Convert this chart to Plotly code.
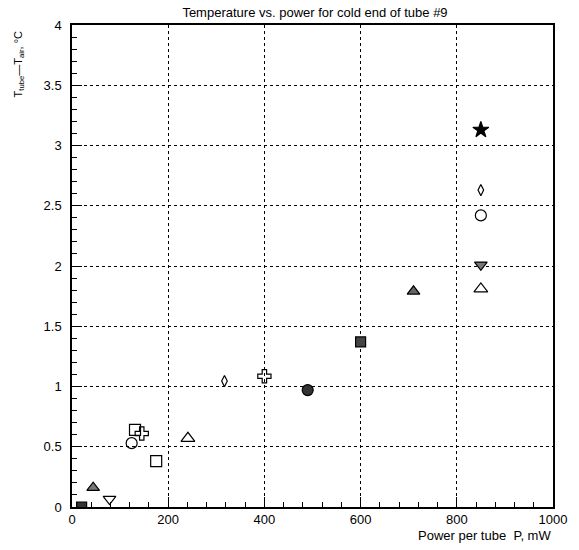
import plotly.graph_objects as go

# Measured temperature rise vs. power per tube (cold end of tube #9)
power_mw = [20, 44, 78, 124, 131, 145, 175, 241, 317, 400, 490, 600, 710,
            850, 850, 850, 850, 850]
delta_t = [0.0, 0.16, 0.066, 0.53, 0.64, 0.61, 0.38, 0.57, 1.045, 1.085,
           0.97, 1.37, 1.79, 3.13, 2.63, 2.42, 2.01, 1.81]

# Marker style for each measurement run
symbols = ["square", "triangle-up", "triangle-down-open", "circle-open",
           "square-open", "cross-open", "square-open", "triangle-up-open",
           "diamond-tall-open", "cross-open", "circle", "square",
           "triangle-up", "star", "diamond-tall-open", "circle-open",
           "triangle-down", "triangle-up-open"]
fills = ["#333", "#777", "black", "black", "black", "black", "black", "black",
         "black", "black", "#333", "#444", "#666", "black", "black", "black",
         "#777", "black"]
sizes = [10, 11, 11, 11, 11, 11, 11, 12, 8, 11, 11, 10, 11, 12, 8, 11, 11, 12]

x_ticks = [0, 200, 400, 600, 800, 1000]
y_ticks = [0, 0.5, 1, 1.5, 2, 2.5, 3, 3.5, 4]
y_tick_text = ["0", "0.5", "1", "1.5", "2", "2.5", "3", "3.5", "4"]

fig = go.Figure()
fig.add_trace(go.Scatter(
    x=power_mw, y=delta_t, mode="markers",
    marker=dict(symbol=symbols, color=fills, size=sizes, opacity=1,
                line=dict(color="black", width=1.2)),
    showlegend=False,
))

axis_common = dict(
    showline=True, linecolor="black", linewidth=1.5, mirror=True,
    showgrid=True, gridcolor="black", griddash="dot", gridwidth=1,
    ticks="inside", ticklen=10, tickcolor="black", tickwidth=1,
    zeroline=False,
    tickfont=dict(family="Liberation Sans", size=13, color="black"),
)

fig.update_xaxes(
    range=[0, 1000], tickvals=x_ticks,
    minor=dict(ticks="inside", ticklen=5, dtick=40, tick0=0,
               tickcolor="black", showgrid=False),
    **axis_common,
)
fig.update_yaxes(
    range=[0, 4], tickvals=y_ticks, ticktext=y_tick_text,
    ticklabelstandoff=6,
    minor=dict(ticks="inside", ticklen=5, dtick=0.1, tick0=0,
               tickcolor="black", showgrid=False),
    **axis_common,
)

fig.update_layout(
    width=579, height=550,
    margin=dict(l=72, r=21, t=25, b=43),
    plot_bgcolor="white", paper_bgcolor="white",
    font=dict(family="Liberation Sans", color="black"),
    title=dict(text="Temperature vs. power for cold end of tube #9",
               x=(72 + 558) / 2 / 579, xanchor="center",
               y=1 - 12 / 550, yanchor="middle",
               font=dict(size=13, family="Liberation Sans")),
    annotations=[
        dict(text="Power per tube  P, mW", xref="paper", yref="paper",
             x=1.0, xanchor="right", y=-0.04, yanchor="top",
             showarrow=False, font=dict(size=13)),
        dict(text="T<sub>tube</sub>—T<sub>air</sub>, °C", xref="paper",
             yref="paper", x=-0.111, xanchor="center", y=0.99,
             yanchor="top", textangle=-90, showarrow=False,
             font=dict(size=11)),
    ],
)

fig.write_html("out.html")
